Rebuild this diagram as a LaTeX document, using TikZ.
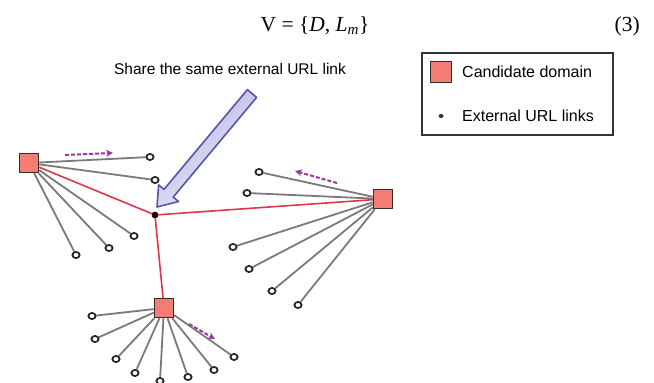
\documentclass[tikz,border=0pt]{standalone}
\usepackage{fontspec}
\setmainfont{Liberation Serif}
\newfontfamily\labelfont{Liberation Sans}
\usetikzlibrary{shapes.geometric,arrows.meta}

\definecolor{domainfill}{HTML}{F47C74}
\definecolor{domainedge}{HTML}{3A2A2A}
\definecolor{linkgray}{HTML}{7A7A7A}
\definecolor{sharedred}{HTML}{E0364A}
\definecolor{flow}{HTML}{9A3A9E}
\definecolor{calloutedge}{HTML}{5656A6}
\definecolor{calloutlight}{HTML}{ECECFA}
\definecolor{calloutdark}{HTML}{B4B4E4}

\tikzset{
  domainbox/.style={rectangle, draw=domainedge, fill=domainfill, line width=1.5pt,
                 minimum size=19pt, inner sep=0pt},
  urlnode/.style={ellipse, draw=black!85, fill=white, line width=1.6pt,
                  minimum width=7pt, minimum height=6pt, inner sep=0pt},
  hubdot/.style={circle, fill=black!80!red, minimum size=6.5pt, inner sep=0pt},
  linkline/.style={draw=linkgray, line width=1.8pt},
  sharedline/.style={draw=sharedred, line width=1.6pt},
  flowarrow/.style={draw=flow, line width=2pt, dash pattern=on 4pt off 2pt,
                    -{Stealth[length=7pt,width=7pt]}},
  legendtext/.style={font=\labelfont\fontsize{16}{19}\selectfont, anchor=west, inner sep=0pt},
}

\begin{document}
\begin{tikzpicture}[x=1pt, y=-1pt]
\useasboundingbox (0,0) rectangle (654,383);

% equation
\node[anchor=base, inner sep=0pt, font=\fontsize{21.5}{25}\selectfont] (eq) at (315,31)
  {V = \{\textit{D}, \textit{L}\textsubscript{\textit{m}}\}};
\node[anchor=base east, inner sep=0pt, font=\fontsize{21.5}{25}\selectfont] (eqnum) at (640,31) {(3)};

% caption of the callout
\node[inner sep=0pt, font=\labelfont\fontsize{15.5}{18}\selectfont] (caption) at (230,69)
  {Share the same external URL link};

% legend
\draw[line width=1.2pt, draw=black!80] (422,53) rectangle (613,135);
\node[domainbox, minimum size=21pt] (legdomain) at (441,72) {};
\node[legendtext] (legdomaintext) at (462,72) {Candidate domain};
\node[ellipse, fill=black!80, minimum width=5pt, minimum height=4pt, inner sep=0pt] (legdot) at (441,116) {};
\node[legendtext] (legdottext) at (462,116) {External URL links};

% candidate domains and the shared link
\node[domainbox] (dl) at (29,163) {};
\node[domainbox] (dr) at (383,199) {};
\node[domainbox] (db) at (164,308) {};
\node[hubdot] (hub) at (155,215) {};

% external links of the left domain
\foreach \p [count=\i] in {(150,157),(155,180),(134,236),(109,248),(76,255)}
  \node[urlnode] (l\i) at \p {};
% external links of the right domain
\foreach \p [count=\i] in {(259,172),(247,193),(233,247),(249,269),(272,291),(298,305)}
  \node[urlnode] (r\i) at \p {};
% external links of the bottom domain
\foreach \p [count=\i] in {(92,316),(95,339),(116,359),(135,373),(160,381),(188,377),(214,370),(234,357)}
  \node[urlnode] (b\i) at \p {};

\foreach \i in {1,...,5} \draw[linkline] (dl) -- (l\i);
\foreach \i in {1,...,6} \draw[linkline] (dr) -- (r\i);
\foreach \i in {1,...,8} \draw[linkline] (db) -- (b\i);

\draw[sharedline] (dl) -- (hub);
\draw[sharedline] (dr) -- (hub);
\draw[sharedline] (db) -- (hub);

% redraw nodes on top of the lines
\node[domainbox] at (dl) {};
\node[domainbox] at (dr) {};
\node[domainbox] at (db) {};
\foreach \i in {1,...,5} \node[urlnode] at (l\i) {};
\foreach \i in {1,...,6} \node[urlnode] at (r\i) {};
\foreach \i in {1,...,8} \node[urlnode] at (b\i) {};
\node[hubdot] at (hub) {};

% direction hints
\coordinate (fl1) at (65,155);  \coordinate (fl2) at (113,153);
\coordinate (fr1) at (337,183); \coordinate (fr2) at (295,171);
\coordinate (fb1) at (189,324); \coordinate (fb2) at (215,339);
\draw[flowarrow] (fl1) -- (fl2);
\draw[flowarrow] (fr1) -- (fr2);
\draw[flowarrow] (fb1) -- (fb2);

% callout arrow pointing at the shared link
\draw[draw=calloutedge, line width=1.6pt, line join=round,
      left color=calloutdark, right color=calloutlight, shading angle=40]
  (247.4,89.6) -- (164.0,189.4) -- (158.6,184.9) -- (157,207)
  -- (178.6,201.5) -- (173.2,197.1) -- (256.6,97.4) -- cycle;
\end{tikzpicture}
\end{document}
